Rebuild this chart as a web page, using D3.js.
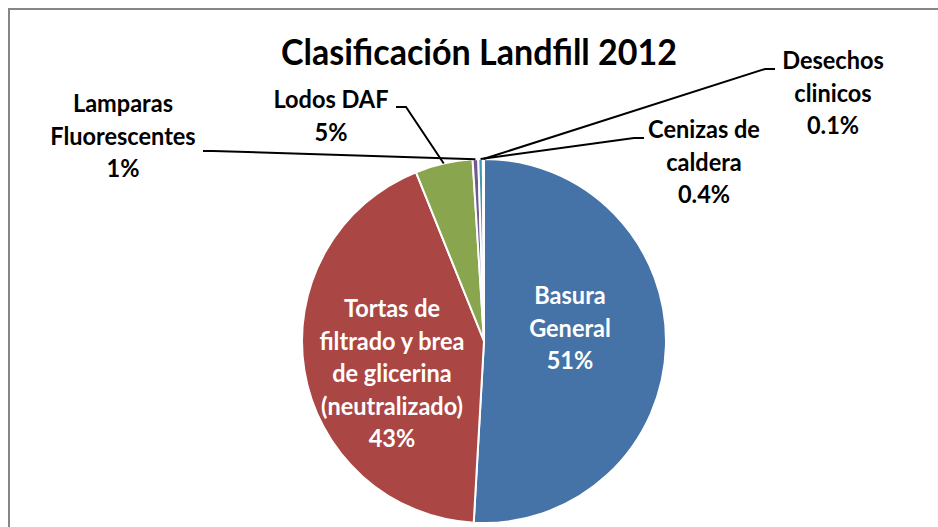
<!DOCTYPE html>
<html>
<head>
<meta charset="utf-8">
<script src="https://cdnjs.cloudflare.com/ajax/libs/d3/7.8.5/d3.min.js"></script>
<style>
  body { margin: 0; background: #fff; }
  svg text { font-family: Lato, "Open Sans", sans-serif; font-weight: bold; }
</style>
</head>
<body>
<div id="chart"></div>
<script>
// datos del grafico (porcentajes)
const categorias = ["Basura General", "Tortas de filtrado y brea de glicerina (neutralizado)", "Lodos DAF", "Lamparas Fluorescentes", "Cenizas de caldera", "Desechos clinicos"];
const valores = [50.9, 43.0, 5.1, 0.5, 0.4, 0.1];
const etiquetas = ["51%", "43%", "5%", "1%", "0.4%", "0.1%"];
const colores = ["#4572A7", "#AA4643", "#89A54E", "#71588F", "#4198AF", "#DB843D"];

// lineas de texto de cada etiqueta
const lineasEtiqueta = [
    ["Basura", "General"],
    ["Tortas de", "filtrado y brea", "de glicerina", "(neutralizado)"],
    ["Lodos DAF"],
    ["Lamparas", "Fluorescentes"],
    ["Cenizas de", "caldera"],
    ["Desechos", "clinicos"]
];

const width = 938, height = 527;
const cx = 484, cy = 341, radio = 182;
const lineH = 32.5;

// posicion de cada etiqueta (centro de la primera linea) y si va fuera
const posEtiqueta = [
    { x: 570, y: 304, dentro: true },
    { x: 392, y: 317, dentro: true },
    { x: 331, y: 108, dentro: false, lado: "izq", ly: 107, hx: 406 },
    { x: 123, y: 112, dentro: false, lado: "izq", ly: 151, hx: 213 },
    { x: 704, y: 138, dentro: false, lado: "der", ly: 138, hx: 634 },
    { x: 833, y: 69, dentro: false, lado: "der", ly: 69, hx: 765 }
];

const svg = d3.select('#chart')
    .append('svg')
    .attr('width', width)
    .attr('height', height);

// marco del grafico
svg.append('rect')
    .attr('x', 9).attr('y', 9)
    .attr('width', width + 20).attr('height', height + 20)
    .attr('fill', '#fff')
    .attr('stroke', '#868686')
    .attr('stroke-width', 2);

// titulo
svg.append('text')
    .attr('x', 479).attr('y', 65)
    .attr('text-anchor', 'middle')
    .attr('font-size', 37)
    .attr('data-comp', 0.92)
    .attr('fill', '#000')
    .text('Clasificación Landfill 2012');

const datos = categorias.map((c, i) => ({ cat: c, valor: valores[i], idx: i }));

const pie = d3.pie().sort(null).value(d => d.valor);
const arcos = pie(datos);
const arc = d3.arc().innerRadius(0).outerRadius(radio);
const arcBorde = d3.arc().innerRadius(radio).outerRadius(radio);

const g = svg.append('g').attr('transform', `translate(${cx},${cy})`);

g.selectAll('path')
    .data(arcos)
    .join('path')
    .attr('d', arc)
    .attr('fill', d => colores[d.data.idx])
    .attr('stroke', '#fff')
    .attr('stroke-width', 2)
    .attr('stroke-linejoin', 'round');

// lineas guia para etiquetas de fuera
arcos.forEach(a => {
    const p = posEtiqueta[a.data.idx];
    if (p.dentro) return;
    const c = arcBorde.centroid(a);
    const x0 = p.lado === "izq" ? p.hx - 10 : p.hx + 10;
    svg.append('polyline')
        .attr('points', `${x0},${p.ly} ${p.hx},${p.ly} ${cx + c[0]},${cy + c[1]}`)
        .attr('fill', 'none')
        .attr('stroke', '#000')
        .attr('stroke-width', 2);
});

// textos de las etiquetas
arcos.forEach(a => {
    const i = a.data.idx;
    const p = posEtiqueta[i];
    const lineas = lineasEtiqueta[i].concat([etiquetas[i]]);
    lineas.forEach((t, k) => {
        svg.append('text')
            .attr('x', p.x)
            .attr('y', p.y + k * lineH)
            .attr('text-anchor', 'middle')
            .attr('font-size', 24)
            .attr('data-comp', 0.98)
            .attr('fill', p.dentro ? '#fff' : '#000')
            .text(t);
    });
});

// comprimir el texto para parecerse a Calibri
svg.selectAll('text').each(function () {
    const w = this.getComputedTextLength();
    const f = +this.getAttribute('data-comp');
    d3.select(this)
        .attr('textLength', w * f)
        .attr('lengthAdjust', 'spacingAndGlyphs');
});
</script>
</body>
</html>
